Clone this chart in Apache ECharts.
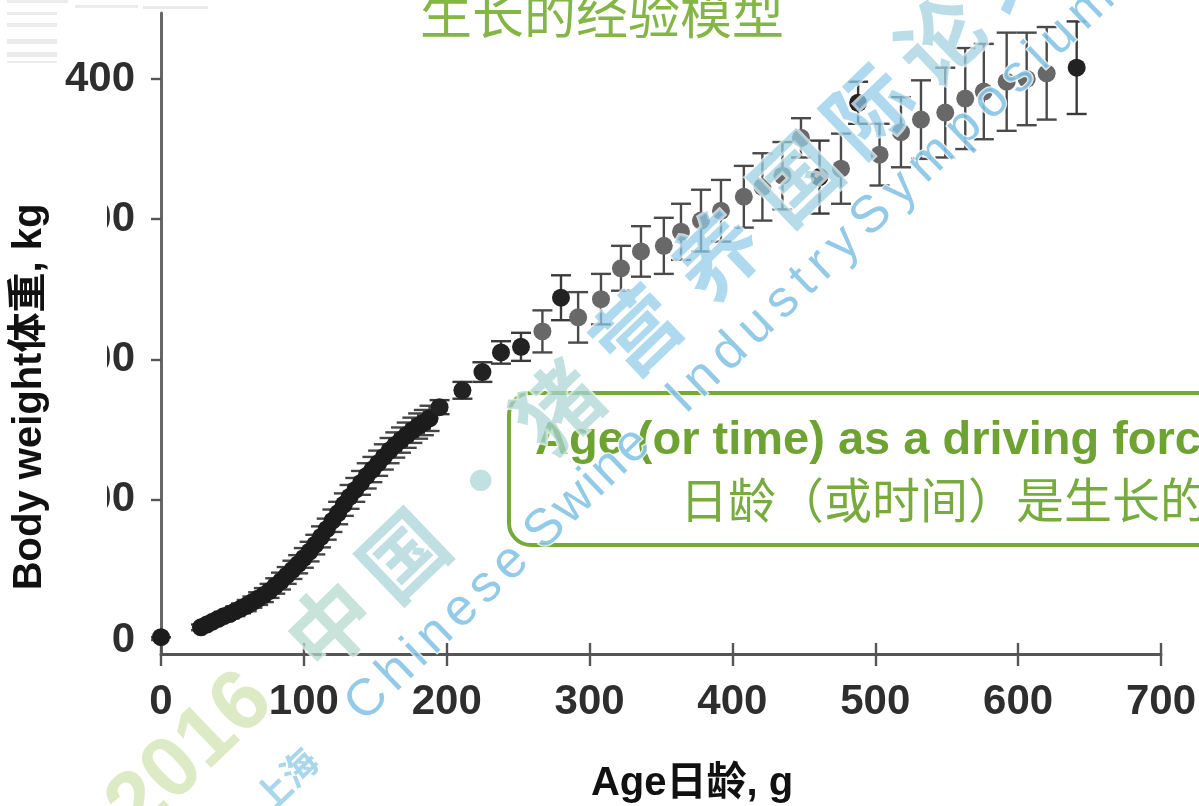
<!DOCTYPE html>
<html>
<head>
<meta charset="utf-8">
<title>生长的经验模型</title>
<script src="https://cdn.jsdelivr.net/npm/echarts@6/dist/echarts.min.js"></script>
<style>
  html, body { margin: 0; padding: 0; background: #ffffff; }
  #chart { width: 1199px; height: 806px; }
</style>
</head>
<body>
<div id="chart"></div>
<script>
// Body weight (kg) by age (days): early, closely spaced weighings
const denseDays = [0, 28, 32, 36, 40, 44, 48, 52, 56, 60, 64, 68, 72, 76, 80, 84, 88, 92, 96, 100,
  104, 108, 112, 116, 120, 124, 128, 132, 136, 140, 144, 148, 152, 156, 160, 164, 168, 172, 176, 180, 184, 188];
const denseKg = [2, 9, 11, 13, 15, 17, 18.5, 20.5, 22.5, 24.5, 27, 29.5, 32, 35, 38.5, 42, 46, 50, 54, 58.5,
  63, 68, 73.5, 79, 85, 90.5, 96.5, 102, 107, 112, 117, 121.5, 126, 130.5, 135, 139, 142.5, 146, 149.5, 152.5, 155, 158];
const denseSd = [0, 2, 2, 2.5, 2.5, 3, 3, 3.5, 3.5, 4, 4, 4.5, 5, 5, 5.5, 6, 6, 6.5, 6.5, 7,
  7, 7, 7.5, 7.5, 8, 8, 8, 8.5, 8.5, 8.5, 9, 9, 9, 9, 9, 9, 9, 9, 9, 9, 9, 9];

// Later weighings, darker markers
const darkDays = [195, 211, 225, 238, 252, 280, 461, 488, 641];
const darkKg   = [166, 178, 191, 205, 209, 244, 330, 383, 408];
const darkSd   = [5, 6, 7, 8, 10, 16, 26, 15, 33];

// Later weighings, lighter markers
const grayDays = [267, 292, 308, 322, 336, 352, 364, 378, 392, 408, 421, 435, 448, 476, 503, 518, 532, 549, 563, 576, 592, 606, 620];
const grayKg   = [220, 230, 243, 265, 277, 281, 291, 299, 306, 316, 323, 331, 358, 336, 346, 362, 371, 376, 386, 391, 398, 400, 404];
const graySd   = [15, 18, 18, 16, 18, 20, 20, 22, 22, 22, 24, 24, 14, 25, 22, 25, 28, 32, 36, 34, 35, 33, 33];

const xTicks = [0, 100, 200, 300, 400, 500, 600, 700];
const yTicks = [0, 100, 200, 300, 400];

const titleText = '生长的经验模型';
const xName = 'Age日龄, g';
const yName = 'Body weight体重, kg';
const boxLine1 = 'Age (or time) as a driving force';
const boxLine2 = '日龄（或时间）是生长的驱动力';
const markCn = ['中', '国', '・', '猪', '营', '养', '国', '际', '论', '坛'];
const markYear = '2016';
const markCity = '上海';
const markEn = ['Chinese', 'Swine', 'Industry', 'Symposium'];

const pts = (d, v) => d.map((x, i) => [x, v[i]]);
const bars = (d, v, s) => d.map((x, i) => [x, v[i] - s[i], v[i] + s[i]]);

function errorSeries(data, color) {
  return {
    type: 'custom',
    data: data,
    encode: { x: 0, y: [1, 2] },
    z: 2,
    clip: false,
    silent: true,
    renderItem: function (params, api) {
      const x = api.value(0);
      const lo = api.coord([x, api.value(1)]);
      const hi = api.coord([x, api.value(2)]);
      const half = 10;
      const st = { stroke: color, lineWidth: 2.4 };
      return {
        type: 'group',
        children: [
          { type: 'line', shape: { x1: lo[0], y1: lo[1], x2: hi[0], y2: hi[1] }, style: st },
          { type: 'line', shape: { x1: lo[0] - half, y1: lo[1], x2: lo[0] + half, y2: lo[1] }, style: st },
          { type: 'line', shape: { x1: hi[0] - half, y1: hi[1], x2: hi[0] + half, y2: hi[1] }, style: st }
        ]
      };
    }
  };
}

// Diagonal watermark layout helpers
const ang = 0.7645;
const ux = Math.cos(ang), uy = -Math.sin(ang);
const nx = Math.sin(ang), ny = Math.cos(ang);
const origin = [330, 625];
function along(s, n) { return [origin[0] + s * ux + n * nx, origin[1] + s * uy + n * ny]; }

function markText(text, s, n, font, fill, opts) {
  const p = along(s, n);
  return {
    type: 'text',
    x: p[0], y: p[1],
    rotation: ang,
    z: 100,
    silent: true,
    style: Object.assign({
      text: text,
      font: font,
      fill: fill,
      align: 'center', verticalAlign: 'middle',
      textAlign: 'center', textVerticalAlign: 'middle',
      stroke: '#ffffff', lineWidth: 3,
      shadowBlur: 5, shadowOffsetX: 3, shadowOffsetY: 3,
      shadowColor: 'rgba(0,0,0,0.25)',
      opacity: 0.72
    }, opts || {})
  };
}

const cnFont = '"Noto Sans CJK SC"';
const cnPos = [0, 101, 209, 315, 425, 535, 645, 745, 845, 950];
const cnFill = ['#b2d8cc', '#a6d3d8', '#a9d5d4', '#a9d4d2', '#90cbe8', '#90cbe8', '#9bcfe0', '#90cbe8', '#9fd0df', '#90cbe8'];
// first and last letter centres of each English word along the diagonal
const enSpan = [[-25, 173], [222, 342], [409, 634], [674, 978]];
const enFont = '52px "Liberation Sans"';

const measureCtx = document.createElement('canvas').getContext('2d');
measureCtx.font = enFont;

const watermark = [];
watermark.push(markText(markYear, -190, -3, 'bold 86px "Liberation Sans"', '#d3e5b6', { opacity: 0.8 }));
markCn.forEach((c, i) => watermark.push(markText(c, cnPos[i], 0, 'bold 84px ' + cnFont, cnFill[i])));
watermark.push(markText(markCity, -139, 81, 'bold 36px ' + cnFont, '#99cfe6', { opacity: 0.85 }));
markEn.forEach((w, wi) => {
  const letters = w.split('');
  const widths = letters.map(ch => measureCtx.measureText(ch).width);
  let inner = 0;
  for (let k = 0; k < letters.length - 1; k++) inner += widths[k] / 2 + widths[k + 1] / 2;
  const span = enSpan[wi][1] - enSpan[wi][0];
  const gap = (span - inner) / (letters.length - 1);
  let pos = enSpan[wi][0];
  letters.forEach((ch, k) => {
    if (k > 0) pos += widths[k - 1] / 2 + widths[k] / 2 + gap;
    watermark.push(markText(ch, pos, 80, enFont, '#7fc1e4', { lineWidth: 2.5, opacity: 0.85 }));
  });
});

// faint marks in the upper-left corner
const corner = [
  [7, 0, 61, 3], [75, 5, 63, 3], [143, 6, 65, 3], [7, 12, 50, 3],
  [7, 23, 50, 4], [7, 39, 50, 5], [7, 52, 50, 5], [7, 61, 50, 2]
].map(r => ({
  type: 'rect', z: 1, silent: true,
  shape: { x: r[0], y: r[1], width: r[2], height: r[3] },
  style: { fill: '#ebebeb' }
}));

const chart = echarts.init(document.getElementById('chart'), null, { renderer: 'canvas' });

const labelFont = { fontFamily: '"Liberation Sans", Arial, sans-serif', fontWeight: 'bold', fontSize: 42, color: '#2e2e2e' };

chart.setOption({
  animation: false,
  backgroundColor: '#ffffff',
  grid: { left: 161, right: 35, top: 13, bottom: 152 },
  xAxis: [
    {
      type: 'value', position: 'bottom',
      min: 0, max: 700, interval: 100,
      axisLine: { show: true, onZero: false, lineStyle: { color: '#555555', width: 3 } },
      axisTick: { show: true, length: 12, lineStyle: { color: '#555555', width: 2.4 }, customValues: xTicks },
      axisLabel: Object.assign({ margin: 27, customValues: xTicks, showMinLabel: true, showMaxLabel: true }, labelFont),
      splitLine: { show: false }
    },
    {
      // upper half of the crossing x ticks
      type: 'value', position: 'bottom',
      min: 0, max: 700, interval: 100,
      axisLine: { show: false, onZero: false },
      axisTick: { show: true, inside: true, length: 11, lineStyle: { color: '#555555', width: 2.4 }, customValues: xTicks },
      axisLabel: { show: false },
      splitLine: { show: false }
    }
  ],
  yAxis: {
    type: 'value',
    min: -10, max: 447,
    axisLine: { show: true, onZero: false, lineStyle: { color: '#666666', width: 3 } },
    axisTick: { show: true, length: 10, lineStyle: { color: '#555555', width: 2.4 }, customValues: yTicks },
    axisLabel: Object.assign({ margin: 26, customValues: yTicks }, labelFont),
    splitLine: { show: false }
  },
  series: [
    errorSeries(bars(denseDays, denseKg, denseSd), '#444444'),
    errorSeries(bars(darkDays, darkKg, darkSd), '#3a3a3a'),
    errorSeries(bars(grayDays, grayKg, graySd), '#4a4a4a'),
    {
      type: 'scatter', data: pts(denseDays, denseKg), symbol: 'circle', symbolSize: 18, z: 5,
      itemStyle: { color: '#1c1c1c', opacity: 1 }, silent: true
    },
    {
      type: 'scatter', data: pts(darkDays, darkKg), symbol: 'circle', symbolSize: 18, z: 5,
      itemStyle: { color: '#222222', opacity: 1 }, silent: true
    },
    {
      type: 'scatter', data: pts(grayDays, grayKg), symbol: 'circle', symbolSize: 18, z: 5,
      itemStyle: { color: '#686868', opacity: 1 }, silent: true
    }
  ],
  graphic: [].concat(corner, [
    // white patch hiding the leading digits of the middle y labels
    { type: 'rect', z: 50, silent: true, shape: { x: 56, y: 190, width: 51, height: 340 }, style: { fill: '#ffffff' } },
    {
      type: 'text', x: 602, y: 14, z: 60, silent: true,
      style: {
        text: titleText, font: '52px "Noto Sans CJK SC"', fill: '#84b646',
        align: 'center', verticalAlign: 'middle', textAlign: 'center', textVerticalAlign: 'middle'
      }
    },
    {
      type: 'text', x: 692, y: 784, z: 60, silent: true,
      style: {
        text: xName, font: 'bold 40px "Liberation Sans", "Noto Sans CJK SC"', fill: '#111111',
        align: 'center', verticalAlign: 'middle', textAlign: 'center', textVerticalAlign: 'middle'
      }
    },
    {
      type: 'text', x: 30, y: 397, rotation: Math.PI / 2, z: 60, silent: true,
      style: {
        text: yName, font: 'bold 40px "Liberation Sans", "Noto Sans CJK SC"', fill: '#111111',
        align: 'center', verticalAlign: 'middle', textAlign: 'center', textVerticalAlign: 'middle'
      }
    },
    {
      type: 'rect', z: 40, silent: true,
      shape: { x: 509, y: 393, width: 800, height: 152, r: 22 },
      style: { fill: '#ffffff', stroke: '#76a93b', lineWidth: 4 }
    },
    {
      type: 'text', x: 535, y: 441, z: 41, silent: true,
      style: {
        text: boxLine1, font: 'bold 47px "Liberation Sans"', fill: '#6ea232',
        align: 'left', verticalAlign: 'middle', textAlign: 'left', textVerticalAlign: 'middle'
      }
    },
    {
      type: 'text', x: 680, y: 500, z: 41, silent: true,
      style: {
        text: boxLine2, font: '48px "Noto Sans CJK SC"', fill: '#78ab3e',
        align: 'left', verticalAlign: 'middle', textAlign: 'left', textVerticalAlign: 'middle'
      }
    }
  ], watermark)
});
</script>
</body>
</html>
